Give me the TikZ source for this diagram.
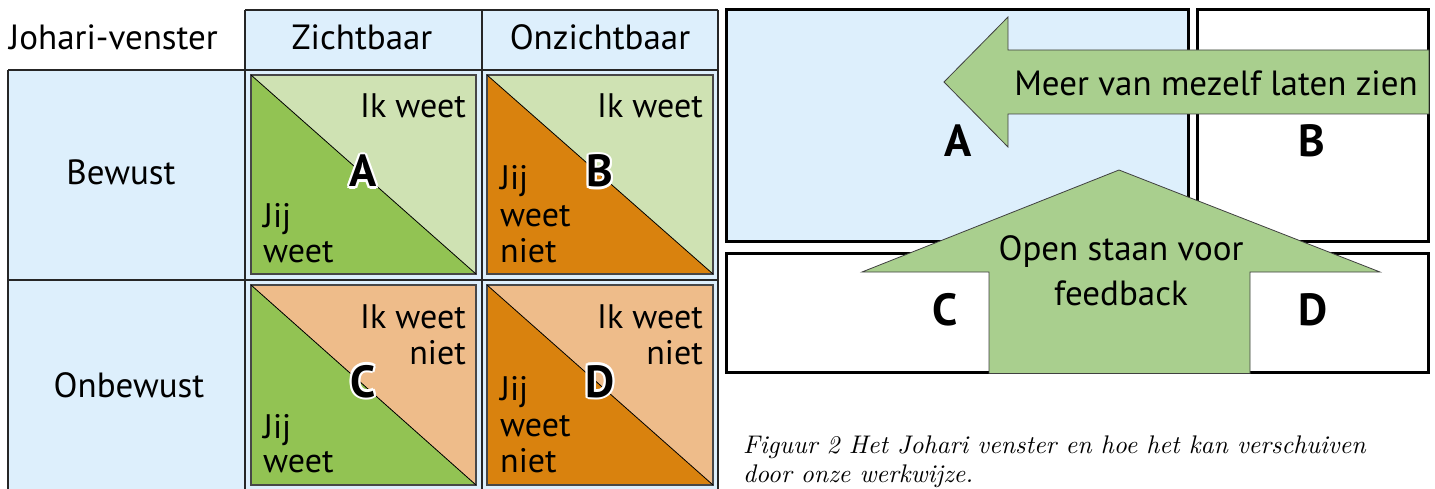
\documentclass[tikz,border=0pt]{standalone}
\usepackage{fontspec}
\newfontfamily\sansf{PT Sans}
\newfontfamily\capf{lmroman10-italic.otf}
\definecolor{lblue}{HTML}{DDEFFC}
\definecolor{dgreen}{HTML}{92C353}
\definecolor{lgreen}{HTML}{CFE2B3}
\definecolor{dorange}{HTML}{D9820E}
\definecolor{lorange}{HTML}{EEBC8A}
\definecolor{agreen}{HTML}{A9CF8E}
\definecolor{tline}{HTML}{262626}
\newcommand{\jquad}[6]{%
  \fill[#6] (#1,#2) rectangle (#3,#4);
  \fill[#5] (#1,#2) -- (#1,#4) -- (#3,#4) -- cycle;
  \draw[draw=tline!85, line width=1.1] (#1,#2) rectangle (#3,#4);
  \draw[black, line width=0.8] (#1,#2) -- (#3,#4);}
\tikzset{
  hdrtext/.style={inner sep=0, font=\sansf\fontsize{35}{38}\selectfont},
  celltext/.style={inner sep=0, font=\sansf\fontsize{34}{36}\selectfont},
  arrowtext/.style={inner sep=0, font=\sansf\fontsize{35}{38}\selectfont},
  bigletter/.style={inner sep=0, font=\sansf\bfseries\fontsize{45}{48}\selectfont},
  halo/.style={inner sep=0, text=white, font=\sansf\bfseries\fontsize{45}{48}\selectfont},
  tbl/.style={draw=tline, line width=1.4},
  jbox/.style={draw=black, line width=3},
  jarrow/.style={fill=agreen, draw=black!75, line width=0.8},
  captext/.style={inner sep=0, font=\capf\fontsize{25.5}{29}\selectfont}
}
\begin{document}
\begin{tikzpicture}[x=1pt,y=-1pt]
\useasboundingbox (0,0) rectangle (1435,489);
% ---------- left table ----------
\fill[lblue] (245,10) rectangle (718,489);
\fill[lblue] (8,70) rectangle (245,489);
\draw[tbl] (245,10) -- (718,10);
\draw[tbl] (245,10) -- (245,489);
\draw[tbl] (482,10) -- (482,489);
\draw[tbl] (718,10) -- (718,489);
\draw[tbl] (8,70) -- (718,70);
\draw[tbl] (8,70) -- (8,489);
\draw[tbl] (8,280) -- (718,280);
\jquad{251}{75}{476}{274}{dgreen}{lgreen}
\jquad{487}{75}{713}{274}{dorange}{lgreen}
\jquad{251}{285}{476}{485}{dgreen}{lorange}
\jquad{487}{285}{713}{485}{dorange}{lorange}

\node[hdrtext, anchor=base west] (jv) at (9,50) {Johari-venster};
\node[hdrtext, anchor=base] (zicht) at (362,50) {Zichtbaar};
\node[hdrtext, anchor=base] (onzicht) at (600,50) {Onzichtbaar};
\node[hdrtext, anchor=base] (bewust) at (121,185) {Bewust};
\node[hdrtext, anchor=base] (onbewust) at (129,397) {Onbewust};

\node[celltext, anchor=base east] (ikA) at (466,118) {Ik weet};
\node[celltext, anchor=base west] (jijA1) at (263,228) {Jij};
\node[celltext, anchor=base west] (jijA2) at (263,262) {weet};
\node[celltext, anchor=base east] (ikB) at (703,118) {Ik weet};
\node[celltext, anchor=base west] (jijB1) at (500,190) {Jij};
\node[celltext, anchor=base west] (jijB2) at (500,226) {weet};
\node[celltext, anchor=base west] (jijB3) at (500,262) {niet};
\node[celltext, anchor=base east] (ikC1) at (466,328) {Ik weet};
\node[celltext, anchor=base east] (ikC2) at (466,364) {niet};
\node[celltext, anchor=base west] (jijC1) at (263,438) {Jij};
\node[celltext, anchor=base west] (jijC2) at (263,472) {weet};
\node[celltext, anchor=base east] (ikD1) at (703,328) {Ik weet};
\node[celltext, anchor=base east] (ikD2) at (703,364) {niet};
\node[celltext, anchor=base west] (jijD1) at (500,400) {Jij};
\node[celltext, anchor=base west] (jijD2) at (500,436) {weet};
\node[celltext, anchor=base west] (jijD3) at (500,472) {niet};

\foreach \px/\py/\lt in {363/187/A, 600/187/B, 363/397/C, 600/397/D}{
  \foreach \ang in {0,30,...,330}{
    \node[halo, anchor=base] at ([shift={(\ang:2.2)}] \px,\py) {\lt};
  }
}
\node[bigletter, anchor=base] (qA) at (363,187) {A};
\node[bigletter, anchor=base] (qB) at (600,187) {B};
\node[bigletter, anchor=base] (qC) at (363,397) {C};
\node[bigletter, anchor=base] (qD) at (600,397) {D};

% ---------- right window ----------
\fill[lblue] (726,10) rectangle (1188,242);
\draw[jbox] (726,10) rectangle (1188,242);
\draw[jbox] (1197,10) rectangle (1428,242);
\draw[jbox] (726,253) rectangle (1428,372);

\node[bigletter, anchor=base] (rA) at (958,157) {A};
\node[bigletter, anchor=base] (rB) at (1312,157) {B};
\node[bigletter, anchor=base] (rC) at (945,325) {C};
\node[bigletter, anchor=base] (rD) at (1313,325) {D};

\filldraw[jarrow] (944,82) -- (1008,17) -- (1008,50) -- (1429,50) -- (1429,114)
  -- (1008,114) -- (1008,147) -- cycle;
\filldraw[jarrow] (1119,170) -- (1380,272) -- (1250,272) -- (1250,373.5)
  -- (989,373.5) -- (989,272) -- (862,272) -- cycle;

\node[arrowtext, anchor=base] (meer) at (1216,96) {Meer van mezelf laten zien};
\node[arrowtext, anchor=base] (open1) at (1121,261) {Open staan voor};
\node[arrowtext, anchor=base] (open2) at (1121,305) {feedback};

\node[captext, anchor=base west] (cap1) at (743,453) {Figuur 2 Het Johari venster en hoe het kan verschuiven};
\node[captext, anchor=base west] (cap2) at (743,482) {door onze werkwijze.};
\end{tikzpicture}
\end{document}
